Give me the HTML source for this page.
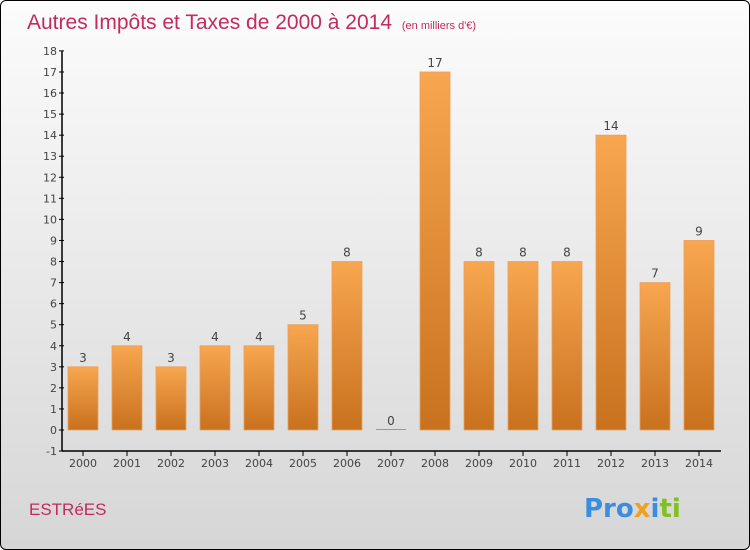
<!DOCTYPE html>
<html><head><meta charset="utf-8"><style>
body{margin:0;}
#c{width:748px;height:548px;border:1px solid #000;border-radius:6px;overflow:hidden;position:relative;background:linear-gradient(#fcfcfc,#d6d6d6);font-family:"DejaVu Sans","Liberation Sans",sans-serif;}
svg{position:absolute;left:0;top:0}
</style></head><body>
<div id="c">
<svg id="s" width="750" height="550">
<defs><linearGradient id="g" x1="0" y1="0" x2="0" y2="1"><stop offset="0" stop-color="#f8a650"/><stop offset="1" stop-color="#c8711e"/></linearGradient></defs>
<text x="26" y="28" font-size="21" fill="#c42a5c" font-family="Liberation Sans, sans-serif">Autres Impôts et Taxes de 2000 à 2014 <tspan font-size="11" dx="4">(en milliers d'€)</tspan></text>
<text x="28" y="514" font-size="17" fill="#c42a5c" font-family="Liberation Sans, sans-serif">ESTRéES</text>
<text x="583" y="516" font-size="26" font-weight="bold"><tspan fill="#3a8ee0">Pro</tspan><tspan fill="#f0a020">x</tspan><tspan fill="#3a8ee0">i</tspan><tspan fill="#80c020">ti</tspan></text>
</svg>
</div>
<script>
const years=["2000","2001","2002","2003","2004","2005","2006","2007","2008","2009","2010","2011","2012","2013","2014"];
const values=[3,4,3,4,4,5,8,0,17,8,8,8,14,7,9];
const yTicks=[-1,0,1,2,3,4,5,6,7,8,9,10,11,12,13,14,15,16,17,18];
const s=document.getElementById('s');
const NS='http://www.w3.org/2000/svg';
function y(v){return 429-v*21.06;}
function x(i){return 82+i*44;}
function mk(t,a,txt){const e=document.createElementNS(NS,t);for(const k in a)e.setAttribute(k,a[k]);if(txt!==undefined)e.textContent=txt;s.appendChild(e);return e;}
let e;
e=mk('line',{x1:61,y1:y(18),x2:61,y2:450,stroke:'#000','stroke-width':1.5});


e=mk('line',{x1:61,y1:450,x2:720,y2:450,stroke:'#000','stroke-width':1.5});


yTicks.forEach(v=>{
 mk('line',{x1:58,x2:63,y1:y(v),y2:y(v),stroke:'#000'});
 e=mk('text',{x:56,y:y(v)+4,'font-size':11,fill:'#444','text-anchor':'end'},String(v));
 
 
});
years.forEach((yr,i)=>{
 const v=values[i];
 mk('line',{x1:x(i),x2:x(i),y1:450,y2:455,stroke:'#000'});
 e=mk('text',{x:x(i),y:466,'font-size':11,fill:'#444','text-anchor':'middle'},yr);
 
 
 const top=y(Math.max(v,0)),h=Math.max(Math.abs(y(0)-y(v)),1);
 e=mk('rect',{x:x(i)-15,y:v>0?top:y(0)-1,width:30,height:h,fill:v>0?'url(#g)':'#999',stroke:v>0?'#e8a060':'none','stroke-width':0.8});
 
 
 e=mk('text',{x:x(i),y:y(v)-5,'font-size':12,fill:'#444','text-anchor':'middle'},String(v));
 
 
});
</script>
</body></html>
